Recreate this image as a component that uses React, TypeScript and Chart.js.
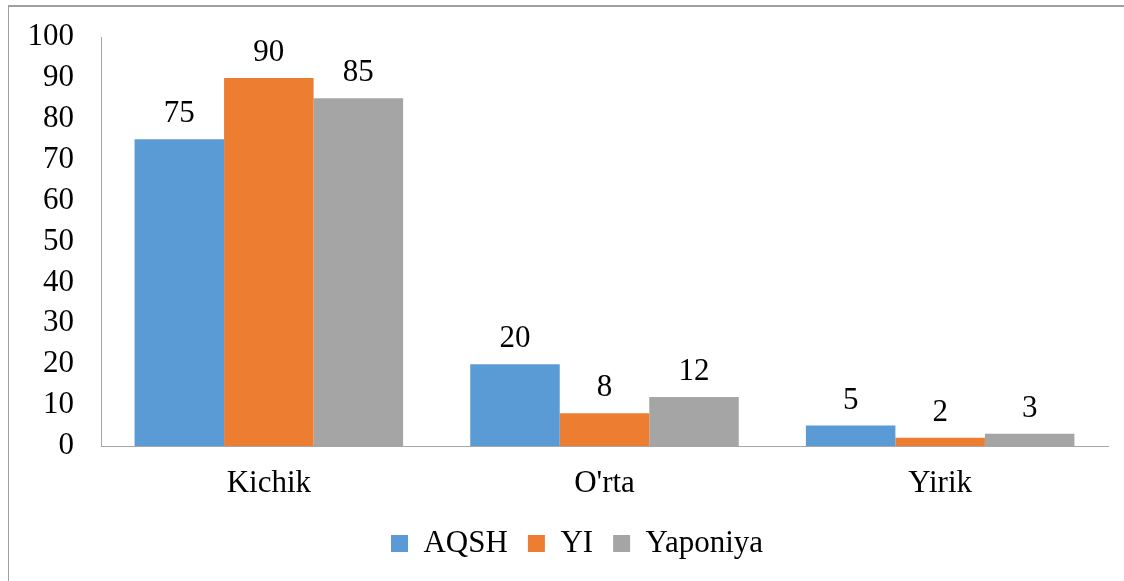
import React, { useEffect, useRef } from "react";
import { Chart, registerables } from "chart.js";

Chart.register(...registerables);

const categories = ["Kichik", "O'rta", "Yirik"];
const seriesNames = ["AQSH", "YI", "Yaponiya"];
const aqshValues = [75, 20, 5];
const yiValues = [90, 8, 2];
const yaponiyaValues = [85, 12, 3];
const seriesColors = ["#5B9BD5", "#ED7D31", "#A5A5A5"];
const yMin = 0;
const yMax = 100;
const yStep = 10;

const FONT_FAMILY = "'Liberation Serif', 'Times New Roman', Times, serif";
const FONT_SIZE = 31;

const valueLabelPlugin = {
  id: "valueLabels",
  afterDatasetsDraw(chart: any) {
    const ctx = chart.ctx;
    ctx.save();
    ctx.font = `${FONT_SIZE}px ${FONT_FAMILY}`;
    ctx.fillStyle = "#000";
    ctx.textAlign = "center";
    ctx.textBaseline = "alphabetic";
    chart.data.datasets.forEach((ds: any, di: number) => {
      const meta = chart.getDatasetMeta(di);
      if (meta.hidden) return;
      meta.data.forEach((el: any, i: number) => {
        ctx.fillText(String(ds.data[i]), el.x, el.y - 17);
      });
    });
    ctx.restore();
  },
};

const LEGEND_SHIFT = 11;
const legendShiftPlugin = {
  id: "legendShift",
  afterLayout(chart: any) {
    if (chart.legend) {
      chart.legend.left += LEGEND_SHIFT;
      chart.legend.right += LEGEND_SHIFT;
    }
  },
};

export default function App() {
  const canvasRef = useRef<HTMLCanvasElement | null>(null);

  useEffect(() => {
    if (!canvasRef.current) return;
    const PLOT_BOTTOM = 446;
    const PLOT_LEFT = 101;
    const PAD_LEFT = 24;
    const PAD_BOTTOM = 12;
    const chart = new Chart(canvasRef.current, {
      type: "bar",
      data: {
        labels: categories,
        datasets: [
          { label: seriesNames[0], data: aqshValues, backgroundColor: seriesColors[0] },
          { label: seriesNames[1], data: yiValues, backgroundColor: seriesColors[1] },
          { label: seriesNames[2], data: yaponiyaValues, backgroundColor: seriesColors[2] },
        ],
      },
      options: {
        responsive: false,
        animation: false,
        devicePixelRatio: 1,
        layout: { padding: { left: PAD_LEFT, top: 37, right: 16, bottom: PAD_BOTTOM } },
        datasets: {
          bar: { categoryPercentage: 0.8, barPercentage: 1.0, borderWidth: 0 },
        },
        scales: {
          x: {
            grid: { display: false, drawTicks: false },
            border: { display: true, color: "#A6A6A6", width: 1 },
            ticks: {
              color: "#000",
              font: { family: FONT_FAMILY, size: FONT_SIZE },
              padding: 19,
              maxRotation: 0,
            },
            afterFit(scale: any) {
              const legendH = scale.chart.legend ? scale.chart.legend.height : 0;
              scale.height = scale.chart.height - PAD_BOTTOM - legendH - PLOT_BOTTOM;
              scale.paddingLeft = 0;
              scale.paddingRight = 0;
            },
          },
          y: {
            min: yMin,
            max: yMax,
            grid: { display: false, drawTicks: false },
            border: { display: true, color: "#A6A6A6", width: 1 },
            ticks: {
              stepSize: yStep,
              color: "#000",
              font: { family: FONT_FAMILY, size: FONT_SIZE },
              padding: 27,
              autoSkip: false,
            },
            afterFit(scale: any) {
              scale.width = PLOT_LEFT - PAD_LEFT;
              scale.paddingTop = 0;
              scale.paddingBottom = 0;
            },
          },
        },
        plugins: {
          legend: {
            position: "bottom",
            labels: {
              color: "#000",
              font: { family: FONT_FAMILY, size: FONT_SIZE },
              boxWidth: 17,
              boxHeight: 17,
              padding: 20,
            },
          },
          tooltip: { enabled: false },
        },
      },
      plugins: [valueLabelPlugin, legendShiftPlugin],
    } as any);
    return () => chart.destroy();
  }, []);

  return (
    <div
      style={{
        position: "fixed",
        left: 0,
        top: 0,
        width: 1124,
        height: 581,
        overflow: "hidden",
        background: "#fff",
      }}
    >
      <div
        style={{
          position: "absolute",
          left: 8,
          top: 5,
          width: 1200,
          height: 700,
          border: "1px solid #A0A0A0",
          borderWidth: "2px 0 0 1px",
          boxSizing: "border-box",
        }}
      />
      <canvas
        ref={canvasRef}
        width={1124}
        height={581}
        style={{ position: "absolute", left: 0, top: 0, width: 1124, height: 581 }}
      />
    </div>
  );
}
